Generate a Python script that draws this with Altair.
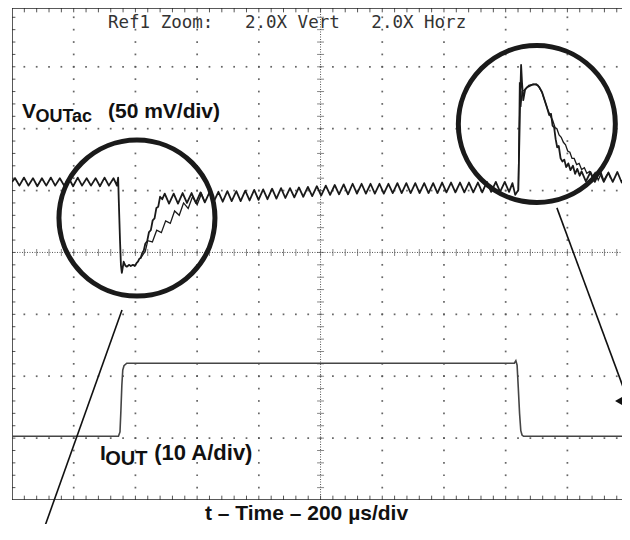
import altair as alt
import pandas as pd

# ---------------- data ----------------
# time in microseconds (200 us/div), vertical position in screen divisions (0 = bottom)
vout_a_t = [0, 10, 24, 39, 53, 68, 82, 97, 111, 126, 140, 155, 169, 184, 198, 213, 227, 242, 256, 271,
            285, 300, 314, 329, 340, 344,
            346, 350, 353, 356, 362, 367, 372, 380, 385, 392, 398, 404, 408, 413, 417, 422, 427, 432,
            438, 444, 450, 456, 462, 468, 474, 480, 487,
            495, 509, 524, 538, 553, 567, 582, 596, 611, 625, 640, 654, 669, 683, 698, 712, 727, 741,
            756, 770, 785, 799, 814, 828, 843, 857, 872, 886, 901, 915, 930, 944, 959, 973, 988, 1002,
            1017, 1031, 1046, 1060, 1075, 1089, 1104, 1118, 1133, 1147, 1162, 1176, 1191, 1205, 1220,
            1234, 1249, 1263, 1278, 1292, 1307, 1321, 1336, 1350, 1365, 1379, 1394, 1408, 1423, 1437,
            1452, 1466, 1481, 1495, 1510, 1524, 1539, 1553, 1568, 1582, 1597, 1611, 1622,
            1631, 1641, 1647, 1650, 1653, 1657, 1663, 1670, 1686, 1699, 1709, 1718, 1734,
            1741, 1747, 1752, 1757, 1762, 1767, 1772, 1778, 1784, 1790, 1796, 1803, 1810, 1818, 1825,
            1832, 1840, 1846, 1860, 1875, 1889, 1904, 1918, 1933, 1947, 1962, 1976, 1991, 2000]
vout_a_v = [5.14, 5.20, 5.08, 5.21, 5.08, 5.20, 5.07, 5.20, 5.08, 5.21, 5.08, 5.20, 5.08, 5.20, 5.07,
            5.21, 5.08, 5.20, 5.08, 5.20, 5.07, 5.21, 5.08, 5.20, 5.08, 5.21,
            4.85, 4.20, 3.80, 3.67, 3.85, 3.79, 3.77, 3.80, 3.78, 3.80, 3.78, 3.83, 3.85, 3.90, 3.91,
            3.99, 4.03, 4.14, 4.18, 4.33, 4.36, 4.52, 4.55, 4.72, 4.74, 4.90, 4.86,
            4.95, 4.79, 4.95, 4.79, 4.96, 4.80, 4.96, 4.80, 4.97, 4.81, 4.97, 4.82, 4.98, 4.82, 4.99,
            4.83, 4.99, 4.83, 5.00, 4.84, 5.01, 4.85, 5.02, 4.86, 5.03, 4.87, 5.04, 4.88, 5.04, 4.89,
            5.05, 4.90, 5.06, 4.91, 5.07, 4.92, 5.08, 4.93, 5.09, 4.94, 5.10, 4.94, 5.11, 4.95, 5.11,
            4.95, 5.11, 4.95, 5.11, 4.95, 5.11, 4.96, 5.12, 4.96, 5.12, 4.96, 5.12, 4.96, 5.12, 4.96,
            5.12, 4.96, 5.13, 4.97, 5.13, 4.97, 5.13, 4.97, 5.13, 4.97, 5.13, 4.97, 5.14, 4.98, 5.14,
            4.98, 5.14, 4.98, 5.12,
            4.93, 5.01, 6.46, 7.03, 6.74, 6.46, 6.63, 6.67, 6.71, 6.72, 6.67, 6.59, 6.34,
            6.22, 6.24, 6.05, 6.02, 5.83, 5.70, 5.72, 5.52, 5.47, 5.50, 5.38, 5.44, 5.33, 5.40, 5.27,
            5.35, 5.24, 5.31, 5.15, 5.30, 5.14, 5.30, 5.14, 5.29, 5.14, 5.30, 5.13, 5.29, 5.20]

# second acquisition, only where it departs from the first one
vout_b_seg = ["dip"] * 17 + ["spike"] * 36
vout_b_t = [417, 425, 432, 440, 455, 469, 484, 498, 513, 527, 542, 556, 571, 585, 600, 614, 625,
            1641, 1645, 1649, 1653, 1660, 1675, 1690, 1705, 1718, 1734, 1745, 1752, 1760, 1766, 1773,
            1780, 1787, 1794, 1801, 1808, 1815, 1822, 1830, 1838, 1846, 1855, 1863, 1872, 1880, 1890,
            1900, 1910, 1918, 1926, 1933, 1940]
vout_b_v = [3.91, 3.97, 4.02, 4.19, 4.17, 4.36, 4.32, 4.51, 4.47, 4.67, 4.60, 4.80, 4.71, 4.90, 4.77,
            4.95, 4.81,
            5.02, 6.75, 6.35, 6.60, 6.62, 6.70, 6.72, 6.70, 6.58, 6.34, 6.20, 6.14, 6.02, 6.00, 5.90,
            5.86, 5.78, 5.74, 5.64, 5.62, 5.52, 5.52, 5.42, 5.44, 5.34, 5.37, 5.28, 5.31, 5.22, 5.29,
            5.17, 5.28, 5.16, 5.24, 5.29, 5.20]

iout_t = [0, 345, 350, 353, 356, 359, 363, 372, 1628, 1633, 1637, 1641, 1645, 1649, 1653, 1658, 2000]
iout_v = [1.03, 1.03, 1.10, 1.45, 1.85, 2.10, 2.17, 2.21, 2.21, 2.25, 2.18, 1.80, 1.40, 1.12, 1.05,
          1.03, 1.03]

# graticule
major_t = [200, 400, 600, 800, 1200, 1400, 1600, 1800]
major_v = [1, 2, 3, 5, 6, 7]
center_t = 1000
center_v = 4

# annotations (circles, pointers, marker)
circle_t = [405, 1701]
circle_v = [4.556, 6.075]
pointer_seg = ["left", "left", "right", "right"]
pointer_t = [356.5, 90.7, 1766, 1996]
pointer_v = [3.07, -0.646, 4.72, 1.616]
marker_t = [1967]
marker_v = [1.60]

# ---------------- chart ----------------
T_VIS = 1977
V_TOP = 7.95
xs = alt.Scale(domain=[0, T_VIS], nice=False, zero=False)
ys = alt.Scale(domain=[0, V_TOP], nice=False, zero=False)


def X(f="t"):
    return alt.X(f"{f}:Q", scale=xs, axis=None)


def Y(f="v"):
    return alt.Y(f"{f}:Q", scale=ys, axis=None)


GRID = "#555555"
INK = "#1a1a1a"

dots = pd.DataFrame(
    [{"t": t, "v": round(k * 0.2, 2)} for t in major_t for k in range(1, 40)]
    + [{"t": 40 * k, "v": v} for v in major_v for k in range(1, 50)]
)
grid_dots = alt.Chart(dots).mark_square(size=3, color=GRID, opacity=0.9).encode(x=X(), y=Y())

hticks = pd.DataFrame({"t": [40 * k for k in range(1, 50)], "v": center_v})
vticks = pd.DataFrame({"t": center_t, "v": [round(0.2 * k, 2) for k in range(1, 40)]})
center_h = alt.Chart(pd.DataFrame({"t": [0], "t2": [2000], "v": [center_v]})).mark_rule(
    color=GRID, strokeDash=[1, 1.5], strokeWidth=1, clip=True).encode(x=X(), x2="t2:Q", y=Y())
center_v_rule = alt.Chart(pd.DataFrame({"t": [center_t], "v": [0], "v2": [V_TOP]})).mark_rule(
    color=GRID, strokeDash=[1, 1.5], strokeWidth=1).encode(x=X(), y=Y(), y2="v2:Q")
tick_h = alt.Chart(hticks).mark_tick(orient="vertical", size=7, thickness=1, color=GRID).encode(x=X(), y=Y())
tick_v = alt.Chart(vticks).mark_tick(orient="horizontal", size=7, thickness=1, color=GRID).encode(x=X(), y=Y())

left_ticks = pd.DataFrame({"t": 0, "t2": 11, "v": [round(0.2 * k, 2) for k in range(1, 40)]})
bot_ticks = pd.DataFrame({"t": [40 * k for k in range(1, 50)], "v": 0, "v2": 0.07})
top_ticks = pd.DataFrame({"t": [40 * k for k in range(1, 50)], "v": V_TOP, "v2": V_TOP - 0.07})
b_left = alt.Chart(left_ticks).mark_rule(color=GRID, strokeWidth=1).encode(x=X(), x2="t2:Q", y=Y())
b_bot = alt.Chart(bot_ticks).mark_rule(color=GRID, strokeWidth=1, clip=True).encode(x=X(), y=Y(), y2="v2:Q")
b_top = alt.Chart(top_ticks).mark_rule(color=GRID, strokeWidth=1, clip=True).encode(x=X(), y=Y(), y2="v2:Q")

frame = pd.DataFrame({"t": [0, 0, 0], "t2": [0, 2000, 2000], "v": [0, 0, V_TOP], "v2": [V_TOP, 0, V_TOP]})
border = alt.Chart(frame).mark_rule(color="#222222", strokeWidth=1.5, clip=True).encode(
    x=X(), x2="t2:Q", y=Y(), y2="v2:Q")

iout = alt.Chart(pd.DataFrame({"t": iout_t, "v": iout_v})).mark_line(
    color="#454545", strokeWidth=1.6, clip=True).encode(x=X(), y=Y())
vout_a = alt.Chart(pd.DataFrame({"t": vout_a_t, "v": vout_a_v})).mark_line(
    color=INK, strokeWidth=1.8, strokeJoin="round", clip=True).encode(x=X(), y=Y())
vout_b = alt.Chart(pd.DataFrame({"seg": vout_b_seg, "t": vout_b_t, "v": vout_b_v})).mark_line(
    color=INK, strokeWidth=1.3, clip=True).encode(x=X(), y=Y(), detail="seg:N")

circles = alt.Chart(pd.DataFrame({"t": circle_t, "v": circle_v, "s": [24336, 24649]})).mark_point(
    shape="circle", filled=False, color=INK, strokeWidth=5, opacity=1).encode(
    x=X(), y=Y(), size=alt.Size("s:Q", scale=None, legend=None))
pointers = alt.Chart(pd.DataFrame({"seg": pointer_seg, "t": pointer_t, "v": pointer_v})).mark_line(
    color="#111111", strokeWidth=1.6).encode(x=X(), y=Y(), detail="seg:N")
marker = alt.Chart(pd.DataFrame({"t": marker_t, "v": marker_v})).mark_point(
    shape="triangle-left", filled=True, size=80, color="#111111", opacity=1).encode(x=X(), y=Y())


def label(t, v, txt, size, font="Liberation Sans", weight="bold", color="#111111", align="left"):
    return alt.Chart(pd.DataFrame({"t": [t], "v": [v], "txt": [txt]})).mark_text(
        align=align, baseline="alphabetic", font=font, fontSize=size, fontWeight=weight,
        color=color).encode(x=X(), y=Y(), text="txt:N")


NB = "\u00a0"
texts = [
    label(311, 7.627, f"Ref1 Zoom:{NB*3}2.0X Vert{NB*3}2.0X Horz", 17.5, font="DejaVu Sans Mono",
          weight="normal", color="#333333"),
    label(32.4, 6.17, "V", 21),
    label(76, 6.11, "OUTac", 18),
    label(311, 6.17, "(50 mV/div)", 21),
    label(285, 0.646, "I", 21),
    label(302, 0.566, "OUT", 20),
    label(461, 0.646, "(10 A/div)", 22),
    label(954.5, -0.323, "t \u2013 Time \u2013 200 \u00b5s/div", 21, align="center"),
]

chart = alt.layer(
    grid_dots, center_h, center_v_rule, tick_h, tick_v, b_left, b_bot, b_top, border,
    iout, vout_a, vout_b, circles, pointers, marker, *texts
).properties(
    width=610, height=492,
    autosize=alt.AutoSizeParams(type="none"),
    padding={"left": 4, "top": 0, "right": 0, "bottom": 24},
    background="white",
).configure_view(stroke=None)

chart.save("out.html", embed_options={"renderer": "svg", "actions": False})
